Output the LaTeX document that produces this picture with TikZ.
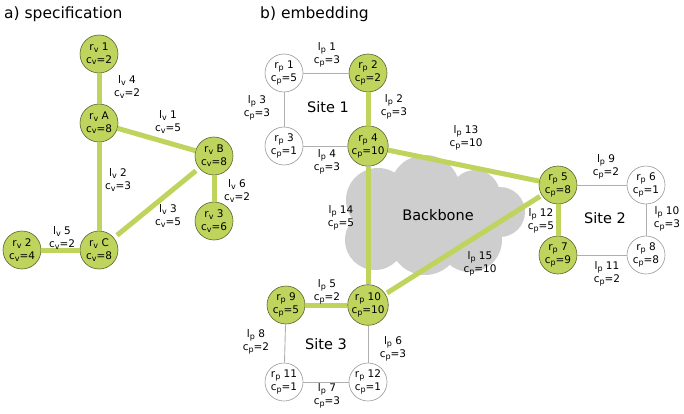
\documentclass[tikz,border=0pt]{standalone}
\usepackage{fontspec}
\setmainfont{DejaVu Sans}
\definecolor{leaf}{RGB}{190,212,92}
\definecolor{leafrim}{RGB}{90,100,50}
\definecolor{cloudgray}{RGB}{206,206,206}
\definecolor{wire}{RGB}{175,175,175}
\newcommand\lo[1]{\raisebox{-0.3ex}{\fontsize{8}{8}\selectfont #1}}
\tikzset{
  used/.style={circle, minimum size=38pt, inner sep=0pt, align=center,
    fill=leaf, draw=leafrim, line width=0.6pt,
    font=\fontsize{10.5}{12.5}\selectfont},
  spare/.style={used, fill=white, draw=gray!80},
  tag/.style={align=center, inner sep=0pt, font=\fontsize{10.5}{13}\selectfont},
  heavy/.style={draw=leaf, line width=5pt},
  light/.style={draw=wire, line width=0.9pt},
  sitename/.style={inner sep=0pt, font=\fontsize{14.5}{16}\selectfont},
  heading/.style={anchor=west, inner sep=0pt, font=\fontsize{15.5}{17}\selectfont}
}
\begin{document}
\begin{tikzpicture}[x=1pt,y=-1pt]
\useasboundingbox (0,0) rectangle (684,414);

% headings
\node[heading] (ta) at (4,14) {a) specification};
\node[heading] (tb) at (260,14) {b) embedding};

% backbone cloud, built from overlapping puffs
\fill[cloudgray]
  (378,200) circle[radius=32pt]
  (425,190) circle[radius=35pt]
  (475,195) circle[radius=25pt]
  (500,212) circle[radius=25pt]
  (375,240) circle[radius=30pt]
  (425,240) circle[radius=35pt]
  (470,240) circle[radius=32pt]
  (430,215) circle[radius=40pt];
\node[sitename] (bbl) at (438,215) {Backbone};

% ---------- a) specification ----------
\node[used] (v1) at (99,54)  {r\lo{v} 1\\c\lo{v}=2};
\node[used] (vA) at (99,123) {r\lo{v} A\\c\lo{v}=8};
\node[used] (vB) at (214,156) {r\lo{v} B\\c\lo{v}=8};
\node[used] (v3) at (214,221) {r\lo{v} 3\\c\lo{v}=6};
\node[used] (v2) at (22,250) {r\lo{v} 2\\c\lo{v}=4};
\node[used] (vC) at (99,250) {r\lo{v} C\\c\lo{v}=8};

\draw[heavy] (v1) -- (vA);
\draw[heavy] (vA) -- (vB);
\draw[heavy] (vA) -- (vC);
\draw[heavy, shorten >=4pt, shorten <=4pt] (vB) -- (vC);
\draw[heavy] (vB) -- (v3);
\draw[heavy] (v2) -- (vC);

\node[tag] (l4) at (127,87)  {l\lo{v} 4\\c\lo{v}=2};
\node[tag] (l1) at (168,122) {l\lo{v} 1\\c\lo{v}=5};
\node[tag] (l2) at (118,180) {l\lo{v} 2\\c\lo{v}=3};
\node[tag] (l3) at (168,216) {l\lo{v} 3\\c\lo{v}=5};
\node[tag] (l6) at (237,191) {l\lo{v} 6\\c\lo{v}=2};
\node[tag] (l5) at (62,238)  {l\lo{v} 5\\c\lo{v}=2};

% ---------- b) embedding ----------
\node[spare] (p1) at (284,73)  {r\lo{p} 1\\c\lo{p}=5};
\node[used]  (p2) at (368,73)  {r\lo{p} 2\\c\lo{p}=2};
\node[spare] (p3) at (284,146) {r\lo{p} 3\\c\lo{p}=1};
\node[used]  (p4) at (368,146) {r\lo{p} 4\\c\lo{p}=10};
\node[used]  (p5) at (558,185) {r\lo{p} 5\\c\lo{p}=8};
\node[spare] (p6) at (646,185) {r\lo{p} 6\\c\lo{p}=1};
\node[used]  (p7) at (558,255) {r\lo{p} 7\\c\lo{p}=9};
\node[spare] (p8) at (646,255) {r\lo{p} 8\\c\lo{p}=8};
\node[used]  (p9) at (286,305) {r\lo{p} 9\\c\lo{p}=5};
\node[used]  (p10) at (368,305) {r\lo{p} 10\\c\lo{p}=10};
\node[spare] (p11) at (284,382) {r\lo{p} 11\\c\lo{p}=1};
\node[spare] (p12) at (368,382) {r\lo{p} 12\\c\lo{p}=1};

% site-internal links
\draw[light] (p1) -- (p2);
\draw[light] (p1) -- (p3);
\draw[light] (p3) -- (p4);
\draw[heavy] (p2) -- (p4);
\draw[light] (p5) -- (p6);
\draw[light] (p6) -- (p8);
\draw[light] (p7) -- (p8);
\draw[heavy] (p5) -- (p7);
\draw[light] (p9) -- (p11);
\draw[light] (p11) -- (p12);
\draw[light] (p10) -- (p12);
\draw[heavy] (p9) -- (p10);

% backbone links
\draw[heavy] (p4) -- (p5);
\draw[heavy] (p4) -- (p10);
\draw[heavy, shorten >=2pt, shorten <=2pt] (p10) -- (p5);

% site names
\node[sitename] (s1) at (328,107) {Site 1};
\node[sitename] (s2) at (605,218) {Site 2};
\node[sitename] (s3) at (326,344) {Site 3};

% link labels
\node[tag] (q1)  at (327,55)  {l\lo{p} 1\\c\lo{p}=3};
\node[tag] (q2)  at (394,107) {l\lo{p} 2\\c\lo{p}=3};
\node[tag] (q3)  at (257,108) {l\lo{p} 3\\c\lo{p}=3};
\node[tag] (q4)  at (327,162) {l\lo{p} 4\\c\lo{p}=3};
\node[tag] (q5)  at (327,292) {l\lo{p} 5\\c\lo{p}=2};
\node[tag] (q6)  at (393,349) {l\lo{p} 6\\c\lo{p}=3};
\node[tag] (q7)  at (327,396) {l\lo{p} 7\\c\lo{p}=3};
\node[tag] (q8)  at (256,342) {l\lo{p} 8\\c\lo{p}=2};
\node[tag] (q9)  at (606,167) {l\lo{p} 9\\c\lo{p}=2};
\node[tag] (q10) at (667,219) {l\lo{p} 10\\c\lo{p}=3};
\node[tag] (q11) at (607,274) {l\lo{p} 11\\c\lo{p}=2};
\node[tag] (q12) at (541,221) {l\lo{p} 12\\c\lo{p}=5};
\node[tag] (q13) at (466,138) {l\lo{p} 13\\c\lo{p}=10};
\node[tag] (q14) at (341,218) {l\lo{p} 14\\c\lo{p}=5};
\node[tag] (q15) at (480,264) {l\lo{p} 15\\c\lo{p}=10};
\end{tikzpicture}
\end{document}
